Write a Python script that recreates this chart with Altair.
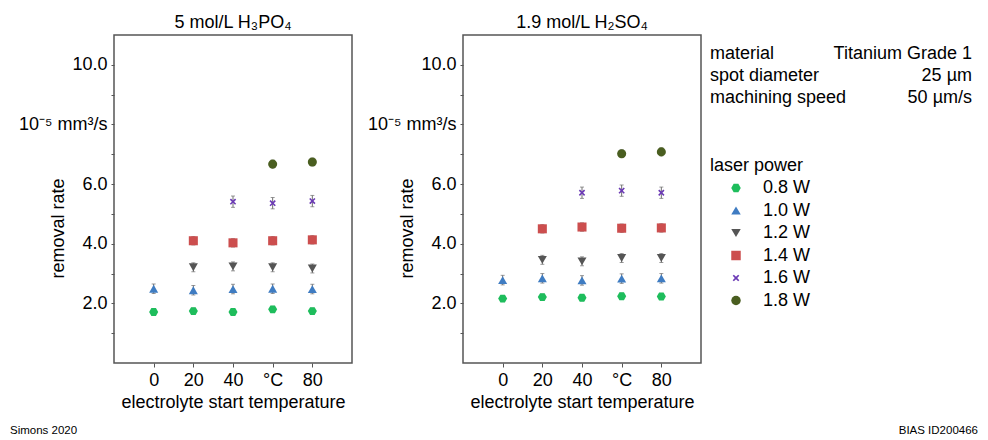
import altair as alt
import pandas as pd

# ---------------- data ----------------
temps = [0, 20, 40, 60, 80]
powers = ["0.8 W", "1.0 W", "1.2 W", "1.4 W", "1.6 W", "1.8 W"]

h3po4_08 = [1.71, 1.74, 1.71, 1.80, 1.74]
h3po4_10 = [2.49, 2.44, 2.48, 2.49, 2.48]
h3po4_12 = [None, 3.21, 3.24, 3.21, 3.17]
h3po4_14 = [None, 4.10, 4.03, 4.10, 4.13]
h3po4_16 = [None, None, 5.41, 5.36, 5.43]
h3po4_18 = [None, None, None, 6.67, 6.74]

h2so4_08 = [2.16, 2.21, 2.19, 2.24, 2.23]
h2so4_10 = [2.78, 2.84, 2.77, 2.83, 2.84]
h2so4_12 = [None, 3.46, 3.41, 3.52, 3.52]
h2so4_14 = [None, 4.50, 4.56, 4.52, 4.53]
h2so4_16 = [None, None, 5.71, 5.78, 5.71]
h2so4_18 = [None, None, None, 7.02, 7.08]

errors = [0.10, 0.16, 0.15, 0.14, 0.19, 0.13]

panel_titles = ["5 mol/L H\u2083PO\u2084", "1.9 mol/L H\u2082SO\u2084"]
x_tick_values = [0, 20, 40, 60, 80]
y_tick_values = [1, 2, 3, 4, 5, 6, 7, 8, 9, 10]
unit_label = "10\u207b\u2075 mm\u00b3/s"

info_labels = ["material", "spot diameter", "machining speed"]
info_values = ["Titanium Grade 1", "25 \u00b5m", "50 \u00b5m/s"]
footer_left = "Simons 2020"
footer_right = "BIAS ID200466"

colors = ["#1ebd5c", "#3f7cc2", "#555555", "#cc4e4e", "#6b3ab5", "#4a5e20"]
hexagon = "M-1,0L-0.5,-0.87L0.5,-0.87L1,0L0.5,0.87L-0.5,0.87Z"
xcross = ("M-0.7,-0.45L-0.45,-0.7L0,-0.25L0.45,-0.7L0.7,-0.45L0.25,0L0.7,0.45"
          "L0.45,0.7L0,0.25L-0.45,0.7L-0.7,0.45L-0.25,0Z")
shapes = [hexagon, "triangle-up", "triangle-down", "square", xcross, "circle"]

FONT = "Liberation Sans"
FS = 18


def build_df(series):
    rows = []
    for p, vals, e in zip(powers, series, errors):
        for t, v in zip(temps, vals):
            if v is not None:
                rows.append({"temp": t, "power": p, "value": v,
                             "lo": v - e, "hi": v + e})
    return pd.DataFrame(rows)


df1 = build_df([h3po4_08, h3po4_10, h3po4_12, h3po4_14, h3po4_16, h3po4_18])
df2 = build_df([h2so4_08, h2so4_10, h2so4_12, h2so4_14, h2so4_16, h2so4_18])

x_axis = alt.Axis(
    values=x_tick_values,
    labelExpr="datum.value == 60 ? '\u00b0C' : datum.label",
    title="electrolyte start temperature",
    titleFontWeight="normal",
    titleFontSize=FS,
    labelFontSize=FS,
    tickSize=4,
    labelPadding=4,
    titlePadding=4,
    grid=False,
    domain=False,
)
x_scale = alt.Scale(domain=[-20, 100], nice=False, zero=False)

y_axis = alt.Axis(
    values=y_tick_values,
    labelExpr=("datum.value == 8 ? '" + unit_label + "' : "
               "(datum.value % 2 == 0 ? format(datum.value, '.1f') : '')"),
    labelOverlap=False,
    title="removal rate",
    titleFontWeight="normal",
    titleFontSize=FS,
    titleX=-56,
    titleY=193,
    titleBaseline="middle",
    labelFontSize=FS,
    tickSize=3,
    labelPadding=4,
    grid=False,
    domain=False,
)
y_scale = alt.Scale(domain=[0, 11], nice=False)

color_enc = alt.Color(
    "power:N",
    scale=alt.Scale(domain=powers, range=colors),
    legend=alt.Legend(
        title="laser power",
        orient="none",
        legendX=596,
        legendY=122,
        padding=0,
        titleFontSize=FS,
        titleFontWeight="normal",
        titleColor="black",
        titlePadding=4,
        labelFontSize=FS,
        labelColor="black",
        symbolSize=90,
        symbolOffset=17,
        labelOffset=18,
        rowPadding=4.5,
        symbolStrokeWidth=0,
    ),
)
shape_enc = alt.Shape("power:N", scale=alt.Scale(domain=powers, range=shapes))


def panel(df, title, extra_layers):
    base = alt.Chart(df)
    err = base.mark_errorbar(ticks=alt.TickConfig(size=4), color="#6f6f6f",
                             thickness=1).encode(
        x=alt.X("temp:Q", scale=x_scale, axis=x_axis),
        y=alt.Y("lo:Q", scale=y_scale, axis=y_axis),
        y2="hi:Q")
    pts = base.mark_point(filled=True, opacity=1, size=82, strokeWidth=0).encode(
        x=alt.X("temp:Q", scale=x_scale, axis=x_axis),
        y=alt.Y("value:Q", scale=y_scale, axis=y_axis),
        color=color_enc, shape=shape_enc)
    layers = [err, pts] + extra_layers
    return alt.layer(*layers).properties(
        width=238, height=328,
        title=alt.TitleParams(title, fontSize=FS, fontWeight="normal", font=FONT,
                              anchor="middle", offset=-11, baseline="alphabetic",
                              frame="group"),
    )


def text_layer(txt, x, y, align="left", size=FS):
    return alt.Chart(pd.DataFrame({"t": [txt]})).mark_text(
        align=align, baseline="middle", fontSize=size, font=FONT, color="black"
    ).encode(text="t:N", x=alt.value(x), y=alt.value(y))


left_extra = [text_layer(footer_left, -104, 396, size=11.5)]
right_extra = [text_layer(footer_right, 515, 396, align="right", size=11.5)]
for i, (lab, val) in enumerate(zip(info_labels, info_values)):
    ypos = 18.5 + i * 22
    right_extra.append(text_layer(lab, 247, ypos))
    right_extra.append(text_layer(val, 509, ypos, align="right"))

left = panel(df1, panel_titles[0], left_extra)
right = panel(df2, panel_titles[1], right_extra)

chart = alt.hconcat(left, right, spacing=111, bounds="flush").properties(
    autosize=alt.AutoSizeParams(type="none"),
    padding={"left": 114, "top": 35, "right": 874, "bottom": 405},
).configure(font=FONT).configure_view(
    stroke="#555555", strokeWidth=1.5
).configure_axis(
    labelColor="black", titleColor="black", tickColor="#555555", labelFont=FONT,
    titleFont=FONT
).configure_legend(labelFont=FONT, titleFont=FONT)

chart.save("out.html", embed_options={"renderer": "svg", "actions": False})
